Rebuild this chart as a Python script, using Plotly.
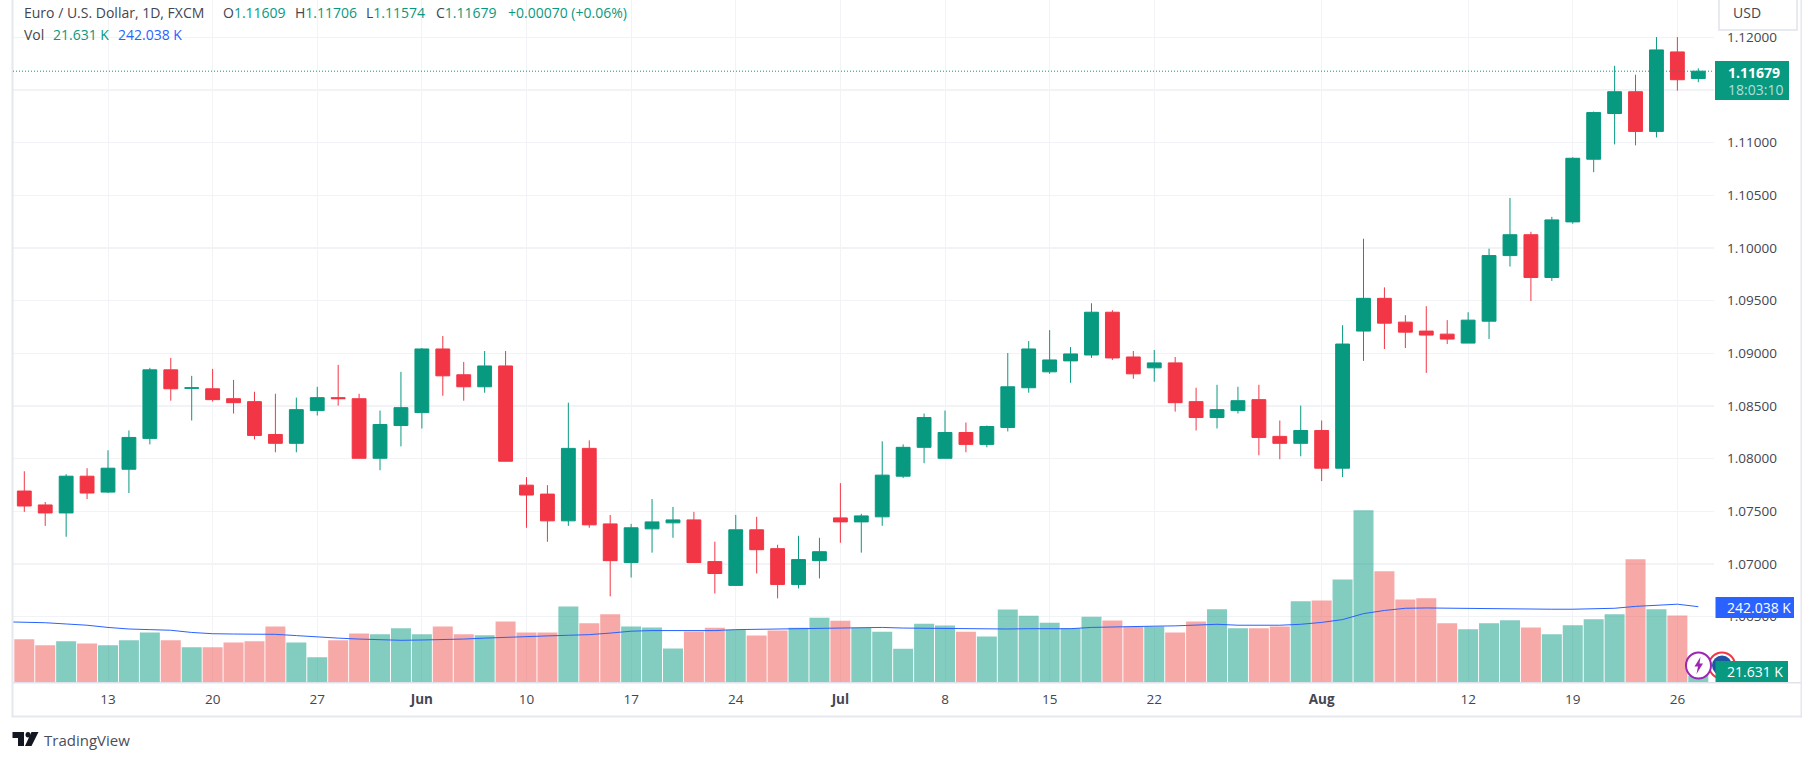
import pandas as pd
import plotly.graph_objects as go

W, H = 1814, 761

dates = [d.strftime("%Y-%m-%d") for d in pd.bdate_range("2024-05-07", "2024-08-27")]
ma_dates = ["2024-05-06"] + dates

opens = [1.07692,1.07560,1.07484,1.07833,1.07682,1.07899,1.08192,1.08843,1.08667,1.08663,
         1.08569,1.08541,1.08229,1.08145,1.08456,1.08579,1.08569,1.08003,1.08314,1.08437,
         1.09041,1.08796,1.08682,1.08880,1.07748,1.07663,1.07409,1.08097,1.07380,1.07013,
         1.07333,1.07390,1.07418,1.07022,1.06796,1.07324,1.07145,1.06805,1.07031,1.07437,
         1.07399,1.07447,1.07833,1.08107,1.08003,1.08248,1.08135,1.08296,1.08673,1.08824,
         1.08928,1.08984,1.09390,1.08965,1.08862,1.08909,1.08541,1.08390,1.08456,1.08560,
         1.08211,1.08145,1.08267,1.07909,1.09211,1.09522,1.09296,1.09211,1.09182,1.09097,
         1.09305,1.09928,1.10126,1.09720,1.10248,1.10843,1.11277,1.11484,1.11107,1.11862,
         1.11609]
highs = [1.07880,1.07588,1.07852,1.07909,1.08079,1.08267,1.08862,1.08956,1.08786,1.08852,
         1.08748,1.08635,1.08616,1.08579,1.08682,1.08890,1.08616,1.08456,1.08824,1.09050,
         1.09164,1.08918,1.09022,1.09022,1.07824,1.07748,1.08531,1.08173,1.07465,1.07380,
         1.07616,1.07541,1.07494,1.07211,1.07465,1.07447,1.07182,1.07267,1.07248,1.07767,
         1.07475,1.08164,1.08135,1.08428,1.08456,1.08343,1.08314,1.09003,1.09116,1.09220,
         1.09060,1.09475,1.09409,1.09022,1.09031,1.08965,1.08673,1.08701,1.08682,1.08701,
         1.08362,1.08503,1.08362,1.09267,1.10088,1.09626,1.09362,1.09447,1.09315,1.09390,
         1.09994,1.10475,1.10154,1.10296,1.10862,1.11296,1.11730,1.11645,1.12003,1.12003,
         1.11706]
lows = [1.07494,1.07361,1.07258,1.07616,1.07673,1.07673,1.08135,1.08550,1.08362,1.08541,
        1.08428,1.08182,1.08060,1.08060,1.08409,1.08503,1.08003,1.07890,1.08116,1.08286,
        1.08597,1.08550,1.08626,1.07975,1.07343,1.07210,1.07361,1.07343,1.06692,1.06871,
        1.07107,1.07248,1.07013,1.06720,1.06796,1.06909,1.06673,1.06767,1.06862,1.07201,
        1.07107,1.07362,1.07815,1.07956,1.08003,1.08060,1.08107,1.08258,1.08626,1.08805,
        1.08720,1.08956,1.08937,1.08758,1.08730,1.08446,1.08267,1.08286,1.08428,1.08031,
        1.07994,1.08022,1.07786,1.07824,1.08928,1.09041,1.09050,1.08814,1.09088,1.09097,
        1.09135,1.09824,1.09497,1.09687,1.10230,1.10720,1.10984,1.10975,1.11050,1.11494,
        1.11574]
closes = [1.07550,1.07484,1.07833,1.07673,1.07909,1.08201,1.08843,1.08663,1.08672,1.08560,
          1.08531,1.08220,1.08145,1.08465,1.08579,1.08569,1.08003,1.08324,1.08484,1.09041,
          1.08786,1.08682,1.08880,1.07975,1.07654,1.07409,1.08097,1.07371,1.07031,1.07343,
          1.07399,1.07418,1.07013,1.06909,1.07324,1.07135,1.06805,1.07041,1.07116,1.07399,
          1.07456,1.07843,1.08107,1.08390,1.08248,1.08135,1.08305,1.08682,1.09041,1.08937,
          1.08994,1.09390,1.08956,1.08805,1.08909,1.08531,1.08390,1.08465,1.08550,1.08201,
          1.08145,1.08267,1.07909,1.09088,1.09522,1.09286,1.09201,1.09173,1.09135,1.09315,
          1.09928,1.10126,1.09720,1.10267,1.10852,1.11286,1.11484,1.11107,1.11881,1.11598,
          1.11679]
volumes = [138,119,132,125,119,135,160,135,113,113,
           128,132,179,128,81,135,157,154,173,154,
           179,154,151,195,160,160,243,189,218,179,
           176,109,163,175,169,150,166,175,207,197,
           175,162,108,188,182,162,147,233,213,191,
           173,210,198,179,179,160,195,234,173,173,
           179,259,262,329,549,355,265,269,189,170,
           189,199,176,154,183,202,218,393,234,214,
           21.631]
vol_ma = [194,193,191,187,183,176,171,169,167,160,156,
          155,154,154,150,145,142,139,137,135,136,
          137,139,142,145,147,149,151,153,158,164,
          166,166,164,166,169,170,171,173,175,176,
          176,176,174,173,174,173,170,171,172,172,
          172,176,178,179,180,181,183,186,183,183,
          183,186,192,201,220,230,237,238,237,237,
          237,236,235,234,234,235,237,243,246,250,
          242.038]
price_ticks = [1.065,1.07,1.075,1.08,1.085,1.09,1.095,1.10,1.105,1.11,1.115,1.12]
price_tick_labels = ["1.06500","1.07000","1.07500","1.08000","1.08500","1.09000","1.09500",
                     "1.10000","1.10500","1.11000","","1.12000"]
time_tick_dates = ["2024-05-13","2024-05-20","2024-05-27","2024-06-03","2024-06-10","2024-06-17",
                   "2024-06-24","2024-07-01","2024-07-08","2024-07-15","2024-07-22","2024-08-01",
                   "2024-08-12","2024-08-19","2024-08-26"]
time_tick_labels = ["13","20","27","<b>Jun</b>","10","17","24","<b>Jul</b>","8","15","22","<b>Aug</b>","12","19","26"]
last_price = 1.11679

GREEN, RED, BLUE = "#089981", "#F23645", "#2962FF"
GRID, BORDER = "#F2F3F7", "#E6E8F0"
TEXT = "#434651"
FONT = "Open Sans"


def px(x):
    return x / W


def py(y):
    return 1 - y / H


def path(*cmds):
    out = []
    for c in cmds:
        if c == "Z":
            out.append("Z")
        else:
            out.append(f"{c[0]}{px(c[1]):.5f},{py(c[2]):.5f}")
    return " ".join(out)


def rect(x0, y0, x1, y1, fill, line=None, width=0):
    return dict(type="rect", xref="paper", yref="paper", x0=px(x0), x1=px(x1), y0=py(y0), y1=py(y1),
                fillcolor=fill, line=dict(color=line or fill, width=width), layer="above")


def circle(x0, y0, x1, y1, fill, line, width=2):
    return dict(type="circle", xref="paper", yref="paper", x0=px(x0), x1=px(x1), y0=py(y0), y1=py(y1),
                fillcolor=fill, line=dict(color=line, width=width), layer="above")


def filled(d, color):
    return dict(type="path", xref="paper", yref="paper", path=d, fillcolor=color,
                line=dict(color=color, width=0), layer="above")


def text(x, y, s, color=TEXT, size=14, anchor="left"):
    return dict(xref="paper", yref="paper", x=px(x), y=py(y), text=s, showarrow=False,
                xanchor=anchor, yanchor="middle", align="left",
                font=dict(family=FONT, size=size, color=color))


def val(label, value):
    return f'<span style="color:{TEXT}">{label}</span><span style="color:{GREEN}">{value}</span>'


vol_colors = ["rgba(8,153,129,0.5)" if c >= o else "rgba(239,83,80,0.5)" for o, c in zip(opens, closes)]

fig = go.Figure()
fig.add_trace(go.Bar(x=dates, y=volumes, marker=dict(color=vol_colors, line=dict(width=0)),
                     width=0.955, yaxis="y", hoverinfo="skip"))
fig.add_trace(go.Scatter(x=ma_dates, y=vol_ma, mode="lines", line=dict(color=BLUE, width=1), yaxis="y",
                         hoverinfo="skip"))
fig.add_trace(go.Candlestick(x=dates, open=opens, high=highs, low=lows, close=closes, yaxis="y2",
                             increasing=dict(line=dict(color=GREEN, width=1), fillcolor=GREEN),
                             decreasing=dict(line=dict(color=RED, width=1), fillcolor=RED),
                             whiskerwidth=0))

AX_TOP, AX_BOTTOM = 0.0, 682.7
shapes = [
    # outer frame and axis rules
    rect(11.5, 0, 13.5, 716.5, BORDER),
    rect(11.5, 715.5, 1802, 717.5, BORDER),
    rect(1800.5, 0, 1802, 717.5, BORDER),
    rect(13, 682, 1801, 683.5, "#E0E3EB"),
    # last-price line
    dict(type="line", xref="paper", yref="y2", x0=px(13), x1=px(1714), y0=last_price, y1=last_price,
         line=dict(color=GREEN, width=1, dash="1px,2px"), layer="above"),
    # currency button
    dict(type="rect", xref="paper", yref="paper", x0=px(1719), x1=px(1797), y0=py(-4), y1=py(30),
         fillcolor="white", line=dict(color="#E0E3EB", width=1.5), layer="above"),
    # event markers
    circle(1709, 652.5, 1735, 678.5, "white", RED),
    circle(1712, 655.5, 1732, 675.5, "#1E53A5", "#1E53A5", 0),
    circle(1686, 652.5, 1711, 678.5, "white", "#9C27B0"),
    filled(path(("M", 1700.5, 657), ("L", 1694.5, 666.5), ("L", 1698, 666.5), ("L", 1696.5, 674),
                ("L", 1703, 663.5), ("L", 1699.5, 663.5), "Z"), "#9C27B0"),
    # price and volume tags
    rect(1715, 61, 1789, 100, GREEN),
    rect(1715.5, 597, 1794, 618, BLUE),
    rect(1715.5, 661, 1788, 682, GREEN),
    # TradingView logo
    filled(path(("M", 12.5, 732), ("L", 24, 732), ("L", 24, 746), ("L", 18, 746), ("L", 18, 738),
                ("L", 12.5, 738), "Z"), "#131722"),
    circle(25.5, 732, 30.5, 737.5, "#131722", "#131722", 0),
    filled(path(("M", 38.5, 732), ("L", 31.5, 746), ("L", 25, 746), ("L", 31.5, 732), "Z"), "#131722"),
]

annotations = [
    text(22, 12.7, "Euro / U.S. Dollar, 1D, FXCM"),
    text(221, 12.7, val("O", "1.11609")),
    text(292.5, 12.7, val("H", "1.11706")),
    text(364, 12.7, val("L", "1.11574")),
    text(434, 12.7, val("C", "1.11679")),
    text(506, 12.7, "+0.00070 (+0.06%)", GREEN),
    text(22, 34, "Vol"),
    text(51, 34, "21.631 K", GREEN),
    text(116, 34, "242.038 K", BLUE),
    text(1730.5, 13, "USD"),
    text(1725.5, 72, "<b>1.11679</b>", "white"),
    text(1725.5, 90, "18:03:10", "rgba(255,255,255,0.7)"),
    text(1724.5, 607.5, "242.038 K", "white"),
    text(1724.5, 671.5, "21.631 K", "white"),
    text(42, 740, "TradingView", "#4A4E59", 15),
]

fig.update_layout(
    width=W, height=H, autosize=False, showlegend=False, dragmode=False,
    margin=dict(l=0, r=0, t=0, b=0), paper_bgcolor="white", plot_bgcolor="white",
    hovermode=False, shapes=shapes, annotations=annotations,
    boxgap=0.3, boxgroupgap=0.055,
    font=dict(family=FONT, size=13, color=TEXT),
    xaxis=dict(type="category", categoryorder="array", categoryarray=ma_dates,
               domain=[px(13), px(1714)], range=[0.46, 81.75], anchor="y",
               rangeslider=dict(visible=False), tickmode="array", tickvals=time_tick_dates,
               ticktext=time_tick_labels, showgrid=True, gridcolor=GRID, gridwidth=1, ticks="",
               showline=False, zeroline=False, tickfont=dict(family=FONT, size=13.5, color=TEXT),
               ticklabelstandoff=7),
    yaxis=dict(domain=[py(AX_BOTTOM), 1], range=[0, 2174], showgrid=False, zeroline=False,
               showticklabels=False, ticks="", showline=False, fixedrange=True),
    yaxis2=dict(domain=[py(AX_BOTTOM), 1], overlaying="y", side="right", anchor="x",
                range=[1.05872, 1.12355], tickmode="array", tickvals=price_ticks,
                ticktext=price_tick_labels,
                showgrid=True, gridcolor=GRID, gridwidth=1.2, zeroline=False, ticks="", showline=False,
                tickfont=dict(family=FONT, size=13.5, color=TEXT), ticklabelstandoff=12),
)

fig.write_html("out.html", config=dict(displayModeBar=False, staticPlot=True),
               post_script="document.body.style.margin='0';document.documentElement.style.overflow='hidden';")
